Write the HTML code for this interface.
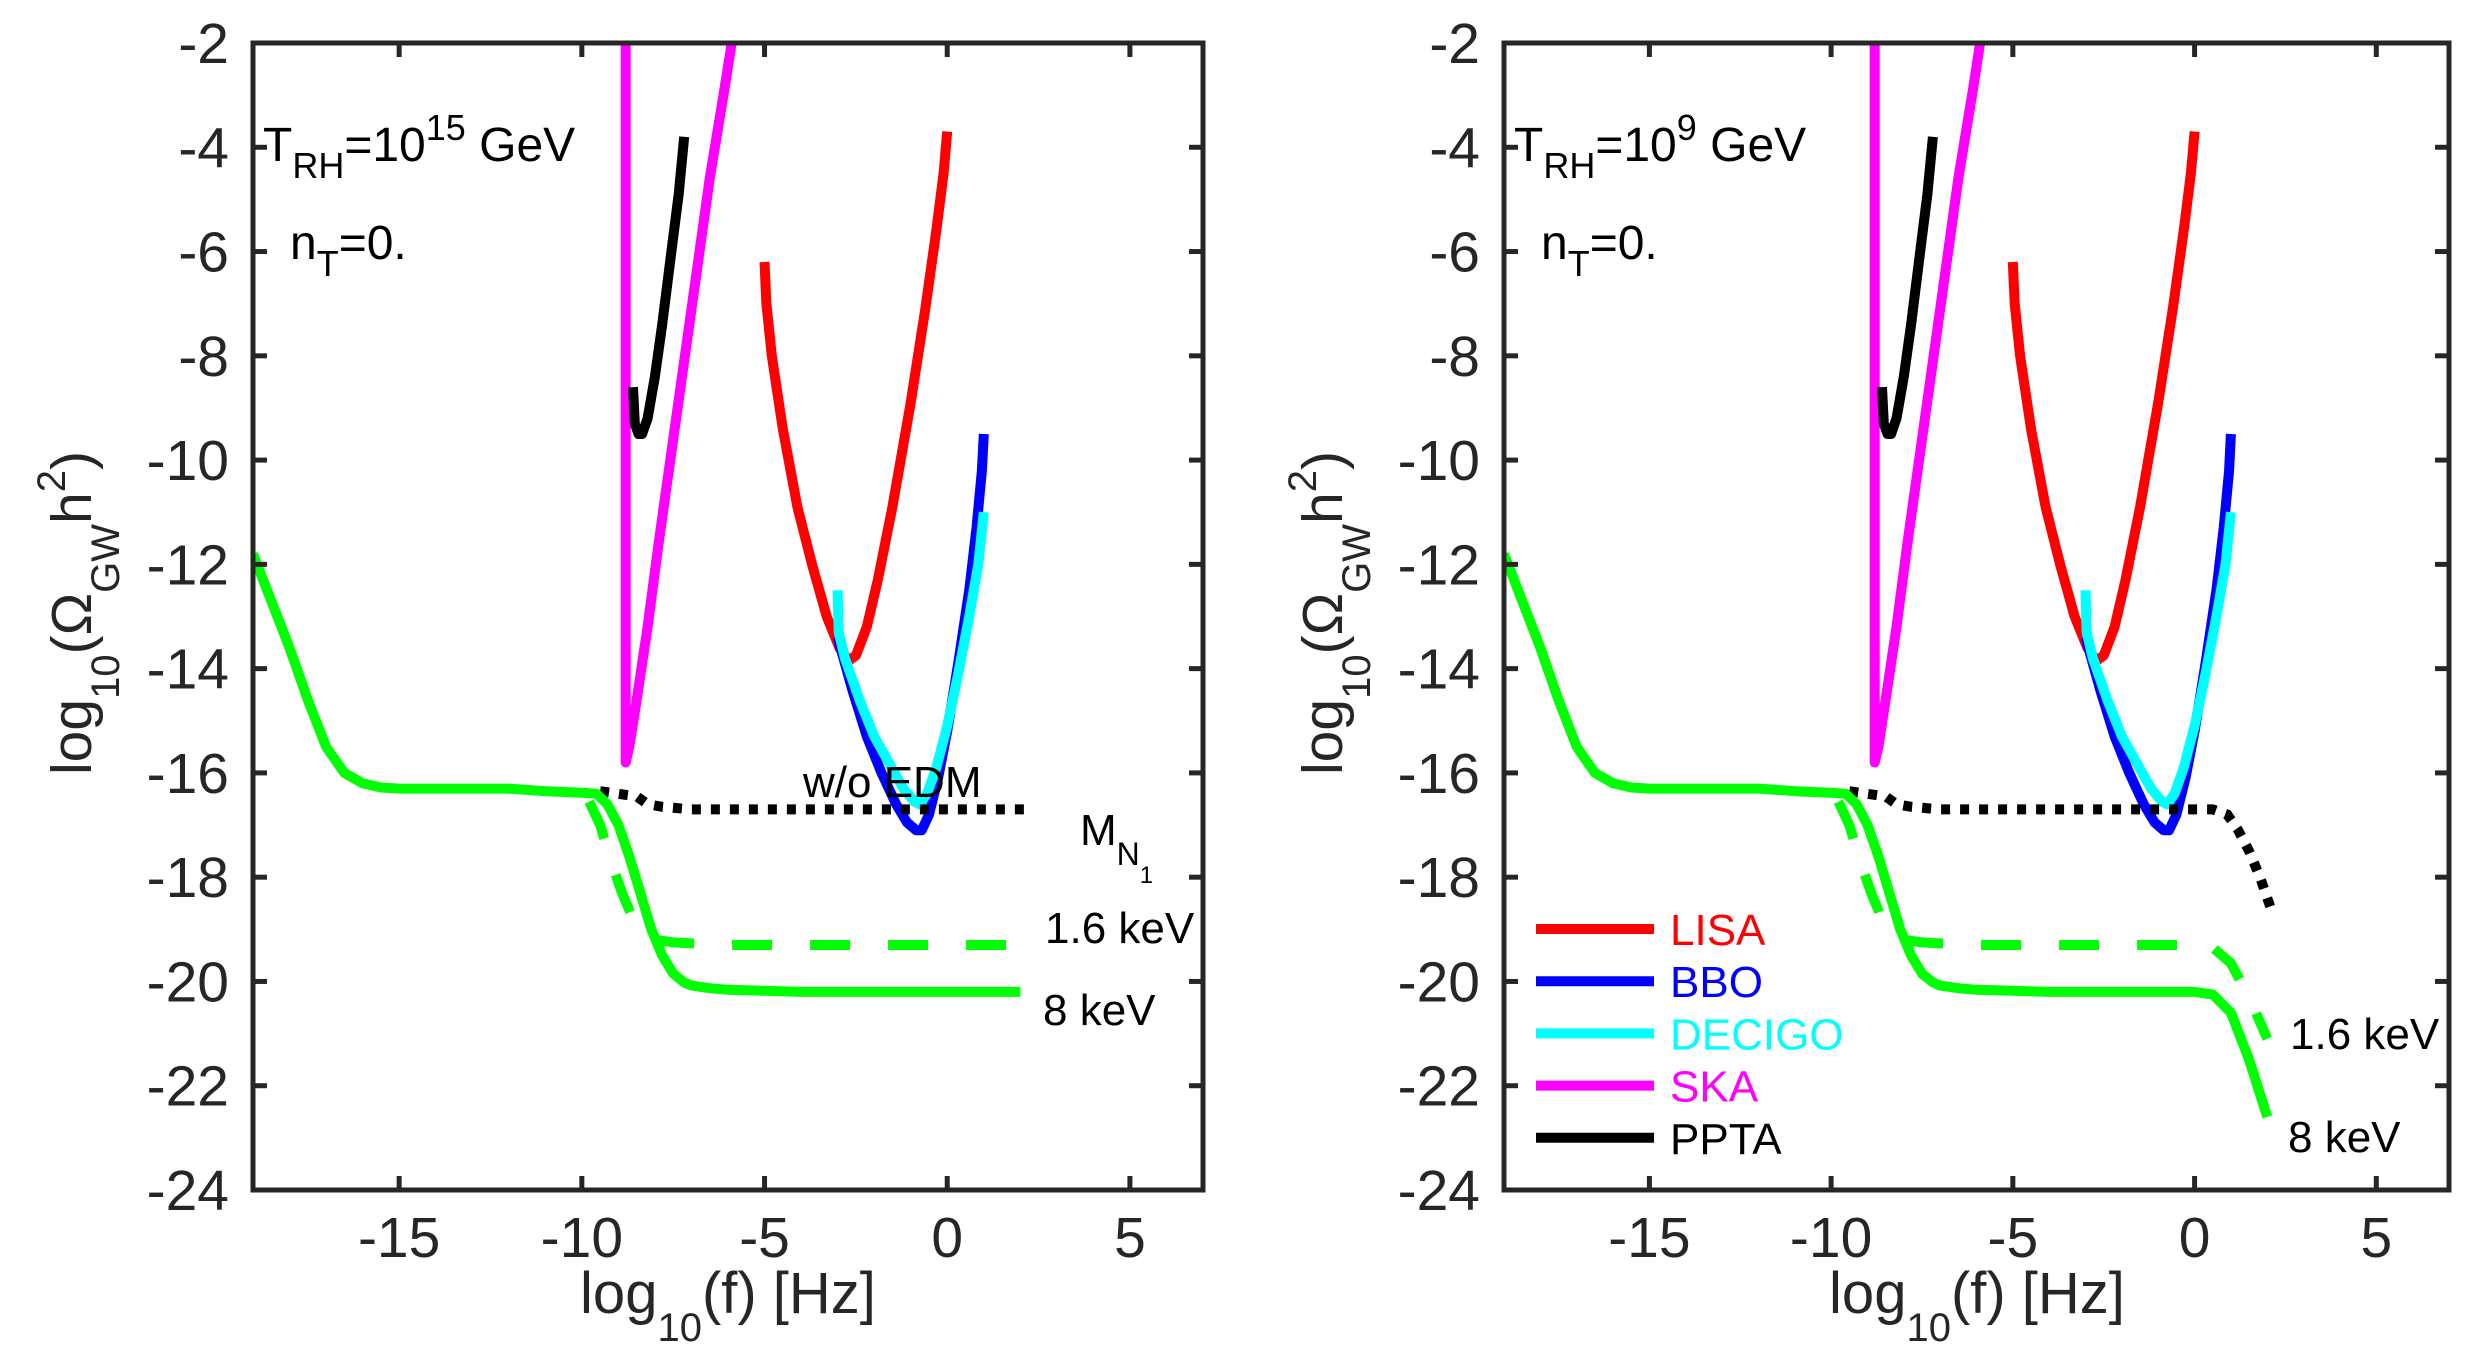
<!DOCTYPE html>
<html><head><meta charset="utf-8"><style>
html,body{margin:0;padding:0;background:#fff}
svg{display:block;font-family:"Liberation Sans",sans-serif}
</style></head><body>
<svg id="fig" width="2485" height="1360" viewBox="0 0 2485 1360" xmlns="http://www.w3.org/2000/svg">
<rect width="2485" height="1360" fill="#fff"/>
</svg>
<script>
// ---- data (axis units) ----
const xTicks = [-15,-10,-5,0,5];
const yTicks = [-2,-4,-6,-8,-10,-12,-14,-16,-18,-20,-22,-24];
const greenSolidX = [-19,-18.5,-18,-17.5,-17,-16.5,-16,-15.5,-15,-13,-12,-11,-10,-9.6,-9.3,-9,-8.7,-8.4,-8.1,-7.8,-7.5,-7.2,-7,-6.5,-6,-5,-4,-2,0,0.5,1,1.5,2];
const greenSolidY = [-11.8,-12.7,-13.6,-14.6,-15.5,-16.0,-16.2,-16.28,-16.3,-16.3,-16.3,-16.35,-16.38,-16.4,-16.6,-17.0,-17.6,-18.3,-19.0,-19.5,-19.85,-20.02,-20.08,-20.13,-20.16,-20.18,-20.2,-20.2,-20.2,-20.2,-20.2,-20.2,-20.2];
const greenSolidYR = [-11.8,-12.7,-13.6,-14.6,-15.5,-16.0,-16.2,-16.28,-16.3,-16.3,-16.3,-16.35,-16.38,-16.4,-16.6,-17.0,-17.6,-18.3,-19.0,-19.5,-19.85,-20.02,-20.08,-20.13,-20.16,-20.18,-20.2,-20.2,-20.2,-20.25,-20.6,-21.5,-22.6];
const greenDashX = [-9.8,-9.5,-9.2,-8.9,-8.6,-8.3,-8,-7.5,-7,-6,-4,-2,0,0.5,1,1.5,2];
const greenDashY = [-16.55,-17.0,-17.7,-18.3,-18.8,-19.1,-19.2,-19.25,-19.27,-19.3,-19.3,-19.3,-19.3,-19.3,-19.3,-19.3,-19.3];
const greenDashYR = [-16.55,-17.0,-17.7,-18.3,-18.8,-19.1,-19.2,-19.25,-19.27,-19.3,-19.3,-19.3,-19.3,-19.35,-19.65,-20.3,-21.1];
const dotX = [-9.5,-9,-8.5,-8.2,-7.8,-7,-5,-2,0,0.5,0.9,1.2,1.5,1.8,2.1];
const dotY = [-16.35,-16.4,-16.45,-16.6,-16.65,-16.7,-16.7,-16.7,-16.7,-16.7,-16.8,-17.1,-17.5,-18.0,-18.6];
const dotYL = [-16.35,-16.4,-16.45,-16.6,-16.65,-16.7,-16.7,-16.7,-16.7,-16.7,-16.7,-16.7,-16.7,-16.7,-16.7];
const skaX = [-8.8,-8.8,-8.7,-8.5,-8.2,-7.9,-7.5,-7,-6.5,-6.1,-5.9];
const skaY = [-2,-15.8,-15.5,-14.6,-13.2,-11.6,-9.6,-7.1,-4.6,-2.9,-2];
const pptaX = [-8.6,-8.55,-8.45,-8.35,-8.2,-8.0,-7.8,-7.55,-7.35,-7.2];
const pptaY = [-8.6,-9.3,-9.5,-9.5,-9.2,-8.4,-7.4,-6.0,-4.9,-3.8];
const lisaX = [-5,-4.95,-4.8,-4.5,-4.1,-3.7,-3.3,-2.95,-2.7,-2.5,-2.2,-1.9,-1.5,-1.0,-0.6,-0.3,-0.1,0];
const lisaY = [-6.2,-7.0,-8.0,-9.4,-10.9,-12.0,-13.0,-13.6,-13.85,-13.75,-13.2,-12.3,-10.9,-8.9,-7.1,-5.6,-4.5,-3.7];
const bboX = [-3,-2.6,-2.2,-1.8,-1.4,-1.1,-0.85,-0.7,-0.5,-0.25,0,0.3,0.6,0.8,0.95,1.0];
const bboY = [-13.4,-14.4,-15.3,-16.0,-16.6,-16.95,-17.1,-17.1,-16.8,-16.1,-15.2,-13.9,-12.5,-11.3,-10.2,-9.5];
const decX = [-3,-2.97,-2.8,-2.4,-2.0,-1.6,-1.2,-0.9,-0.75,-0.55,-0.3,0,0.3,0.6,0.85,1.0];
const decY = [-12.5,-13.3,-13.8,-14.6,-15.3,-15.8,-16.3,-16.55,-16.6,-16.4,-15.9,-15.1,-14.1,-13.0,-12.0,-11.0];
const legendNames = ["LISA","BBO","DECIGO","SKA","PPTA"];
const legendColors = ["#ff0000","#0000ff","#00ffff","#ff00ff","#000000"];

const NS = "http://www.w3.org/2000/svg";
const svg = document.getElementById('fig');
function el(tag, attrs, parent){const e=document.createElementNS(NS,tag);for(const k in attrs)e.setAttribute(k,attrs[k]);(parent||svg).appendChild(e);return e;}

function makePanel(px0, px1, py0, py1, right){
  const g = el('g',{});
  
  
  const X = v => px0 + (v + 19) / 26 * (px1 - px0);
  const Y = v => py0 + (-2 - v) / 22 * (py1 - py0);
  const clip = 'clip' + (right?'R':'L');
  const cp = el('clipPath',{id:clip},g); el('rect',{x:px0,y:py0,width:px1-px0,height:py1-py0},cp);
  const plot = el('g',{'clip-path':'url(#'+clip+')'},g);
  function line(xs, ys, color, name, extra){
    const d = xs.map((x,i)=>(i?'L':'M')+X(x).toFixed(1)+' '+Y(ys[i]).toFixed(1)).join(' ');
    const p = el('path',Object.assign({d:d,fill:'none',stroke:color,'stroke-width':10,'stroke-linejoin':'round'},extra||{}),plot);
    
    
  }
  line(skaX, skaY, '#ff00ff', 'ska-curve');
  line(pptaX, pptaY, '#000000', 'ppta-curve');
  line(lisaX, lisaY, '#ff0000', 'lisa-curve');
  line(bboX, bboY, '#0000ff', 'bbo-curve');
  line(decX, decY, '#00ffff', 'decigo-curve');
  line(dotX, right?dotY:dotYL, '#000000', 'without-edm-curve', {'stroke-dasharray':'9 10','stroke-linejoin':'miter'});
  line(greenDashX, right?greenDashYR:greenDashY, '#00ff00', 'green-1p6kev-curve', {'stroke-dasharray':'40 38'});
  line(greenSolidX, right?greenSolidYR:greenSolidY, '#00ff00', 'green-8kev-curve');
  const box = el('rect',{x:px0,y:py0,width:px1-px0,height:py1-py0,fill:'none',stroke:'#262626','stroke-width':5},g);
  
  
  xTicks.forEach(t=>{
    el('line',{x1:X(t),x2:X(t),y1:py1,y2:py1-14,stroke:'#262626','stroke-width':5},g);
    el('line',{x1:X(t),x2:X(t),y1:py0,y2:py0+14,stroke:'#262626','stroke-width':5},g);
    const tx = el('text',{x:X(t),y:1257,'font-size':57,'text-anchor':'middle',fill:'#262626'},g);
    tx.textContent = String(t);
    
    
  });
  yTicks.forEach(t=>{
    el('line',{x1:px0,x2:px0+14,y1:Y(t),y2:Y(t),stroke:'#262626','stroke-width':5},g);
    el('line',{x1:px1,x2:px1-14,y1:Y(t),y2:Y(t),stroke:'#262626','stroke-width':5},g);
    const tx = el('text',{x:px0-24,y:Y(t)+20,'font-size':57,'text-anchor':'end',fill:'#262626'},g);
    tx.textContent = String(t);
    
    
  });
  return {X,Y,g};
}

const L = makePanel(253,1203,43,1190,false);
const R = makePanel(1504,2449,43,1190,true);

function addHTML(parent, markup){
  const tmp = document.createElementNS(NS,'g');
  tmp.innerHTML = markup;
  while(tmp.firstChild) parent.appendChild(tmp.firstChild);
}
addHTML(svg, `
<text x="728" y="1313" font-size="58" text-anchor="middle" fill="#262626">log<tspan font-size="40" dy="28">10</tspan><tspan dy="-28">(f) [Hz]</tspan></text>
<text x="1977" y="1313" font-size="58" text-anchor="middle" fill="#262626">log<tspan font-size="40" dy="28">10</tspan><tspan dy="-28">(f) [Hz]</tspan></text>
<text transform="translate(91,613) rotate(-90)" font-size="57" text-anchor="middle" fill="#262626">log<tspan font-size="40" dy="28">10</tspan><tspan dy="-28">(Ω</tspan><tspan font-size="40" dy="28">GW</tspan><tspan dy="-28">h</tspan><tspan font-size="40" dy="-26">2</tspan><tspan dy="26">)</tspan></text>
<text transform="translate(1342,613) rotate(-90)" font-size="57" text-anchor="middle" fill="#262626">log<tspan font-size="40" dy="28">10</tspan><tspan dy="-28">(Ω</tspan><tspan font-size="40" dy="28">GW</tspan><tspan dy="-28">h</tspan><tspan font-size="40" dy="-26">2</tspan><tspan dy="26">)</tspan></text>
<text x="263" y="161" font-size="48" fill="#000">T<tspan font-size="36" dy="17">RH</tspan><tspan dy="-17">=10</tspan><tspan font-size="36" dy="-21">15</tspan><tspan dy="21"> GeV</tspan></text>
<text x="290" y="259" font-size="48" fill="#000">n<tspan font-size="36" dy="17">T</tspan><tspan dy="-17">=0.</tspan></text>
<text x="1514" y="161" font-size="48" fill="#000">T<tspan font-size="36" dy="17">RH</tspan><tspan dy="-17">=10</tspan><tspan font-size="36" dy="-21">9</tspan><tspan dy="21"> GeV</tspan></text>
<text x="1541" y="259" font-size="48" fill="#000">n<tspan font-size="36" dy="17">T</tspan><tspan dy="-17">=0.</tspan></text>
<text x="803" y="797" font-size="44" fill="#000">w/o EDM</text>
<text x="1080" y="845" font-size="44" fill="#000">M<tspan font-size="32" dy="20">N</tspan><tspan font-size="24" dy="18">1</tspan></text>
<text x="1045" y="943" font-size="44" fill="#000">1.6 keV</text>
<text x="1043" y="1025" font-size="44" fill="#000">8 keV</text>
<text x="2290" y="1049" font-size="44" fill="#000">1.6 keV</text>
<text x="2288" y="1152" font-size="44" fill="#000">8 keV</text>
`);

const legend = el('g',{});


legendNames.forEach((n,i)=>{
  const y = 929 + i*52.2;
  const ln = el('line',{x1:1536,x2:1654,y1:y,y2:y,stroke:legendColors[i],'stroke-width':10},legend);
  
  
  const t = el('text',{x:1670,y:y+16,'font-size':44,fill:legendColors[i]},legend);
  t.textContent = n;
  
  
});
</script>
</body></html>
